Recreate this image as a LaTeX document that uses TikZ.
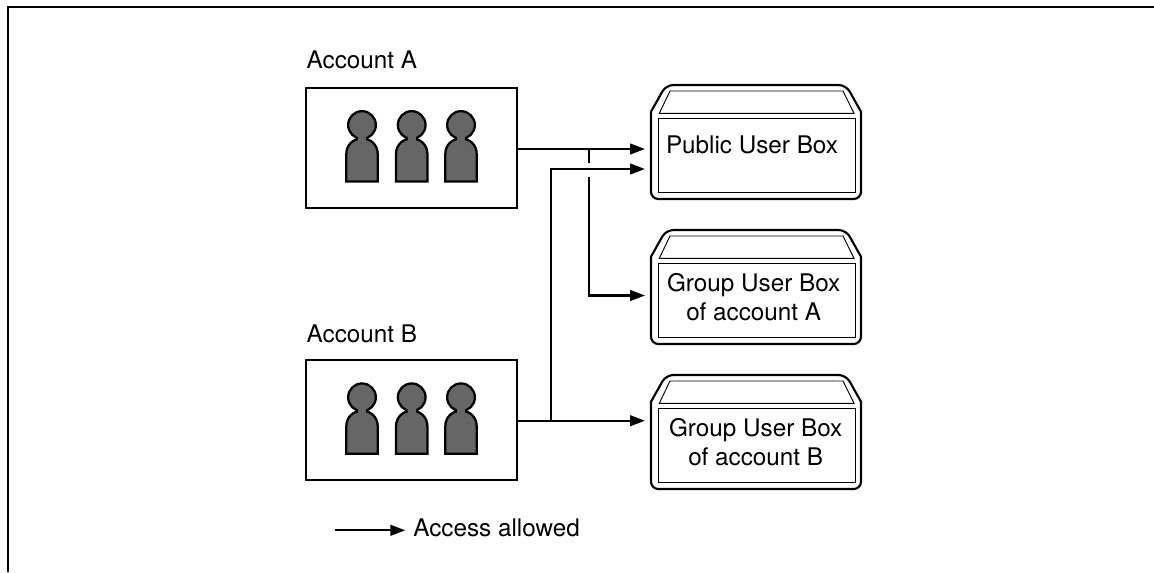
\documentclass[tikz,border=0pt]{standalone}
\usepackage{fontspec}
\setmainfont{TeX Gyre Heros}
\usetikzlibrary{arrows.meta}
\definecolor{persongray}{HTML}{666666}
\tikzset{
  x=0.75pt,y=-0.75pt,
  frameline/.style={draw=black,line width=1.5pt,line cap=butt},
  accountbox/.style={draw=black,line width=1.7pt,fill=white,minimum width=158.25pt,minimum height=90pt,inner sep=0pt,outer sep=0pt},
  boxframe/.style={draw=none,minimum width=157.5pt,minimum height=85.5pt,inner sep=0pt,outer sep=0pt},
  outerline/.style={draw=black,line width=1.6pt,line join=round},
  innerline/.style={draw=black,line width=0.7pt},
  flow/.style={draw=black,line width=1.7pt,-{Triangle[length=11.25pt,width=8pt]}},
  plainflow/.style={draw=black,line width=1.7pt},
  labeltext/.style={font=\fontsize{18.2}{21.75}\selectfont,text=black,inner sep=0pt,outer sep=0pt},
  caption/.style={labeltext,anchor=base west},
  boxtext/.style={labeltext,align=center},
  person/.pic={
    \draw[fill=persongray,draw=black,line width=1.7pt]
      (-15.7,56.5) -- (-15.7,29) .. controls (-15.7,20) and (-9,13.5) .. (0,13.5)
      .. controls (9,13.5) and (15.7,20) .. (15.7,29) -- (15.7,56.5) -- cycle;
    \draw[fill=persongray,draw=black,line width=1.7pt] (0,0) circle[radius=10.4pt];
    \fill[persongray] (-4,9) rectangle (4,18);
  },
  userbox/.pic={
    \draw[outerline,fill=white] (0,26.7) [rounded corners=5.5pt] -- (15,0) -- (195,0) [sharp corners] -- (210,26.7)
      [rounded corners=5.5pt] -- (210,114) -- (0,114) [sharp corners] -- cycle;
    \draw[innerline] (8.3,28.3) -- (19,6) -- (192,6) -- (203,28.3) -- cycle;
    \draw[innerline] (7,33) rectangle (204,107);
  }
}
\begin{document}
\begin{tikzpicture}
\useasboundingbox (0,0) rectangle (1154,572);
\draw[frameline] (1154,7) -- (8,7) -- (8,572);

\node[caption] (capA) at (306.7,68.3) {Account A};
\node[caption] (capB) at (306.7,342.3) {Account B};

\node[accountbox] (accA) at (411.5,147.7) {};
\node[accountbox] (accB) at (411.5,420) {};
\foreach \px in {362,411.7,461}{
  \pic at (\px,125) {person};
  \pic at (\px,397.3) {person};
}

\pic at (651,85) {userbox};
\pic at (651,230) {userbox};
\pic at (651,375) {userbox};
\node[boxframe] (pub) at (756,142) {};
\node[boxframe] (grpA) at (756,287) {};
\node[boxframe] (grpB) at (756,432) {};
\node[labeltext,anchor=base] (pubtext) at (752,153.3) {Public User Box};
\node[boxtext] (grpAtext) at (753.7,297.5) {Group User Box\\of account A};
\node[boxtext] (grpBtext) at (755.7,442.5) {Group User Box\\of account B};

\coordinate (jA) at (589.3,149);
\coordinate (jB) at (550.7,420.7);
\coordinate (gapTop) at (589.3,162.7);
\coordinate (gapBot) at (589.3,176.7);
\coordinate (turnB) at (550.7,169);
\coordinate (turnA) at (589.3,295.5);
\coordinate (legL) at (335,530.3);
\coordinate (legR) at (405.3,530.3);

\draw[flow] (accA.east |- jA) -- (pub.west |- jA) [shorten >=4.5pt];
\draw[plainflow] (jA) -- (gapTop);
\draw[flow] (gapBot) -- (turnA) -- ([xshift=-4.5pt]grpA.west |- turnA);
\draw[flow] (jB) -- (turnB) -- ([xshift=-4.5pt]pub.west |- turnB);
\draw[flow] (accB.east |- jB) -- ([xshift=-4.5pt]grpB.west |- jB);
\draw[flow] (legL) -- (legR);
\node[caption] (legtext) at (413.3,536.7) {Access allowed};
\end{tikzpicture}
\end{document}
